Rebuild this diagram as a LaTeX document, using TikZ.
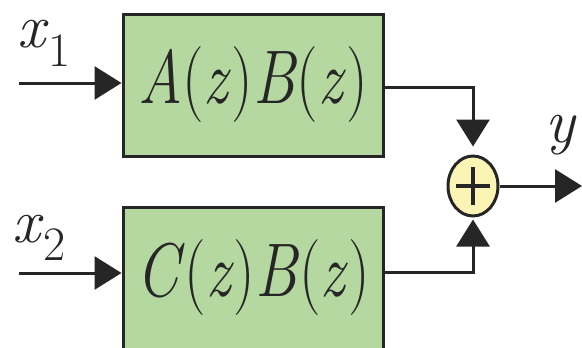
\documentclass[tikz,border=0pt]{standalone}
\usepackage{fontspec}
\usetikzlibrary{arrows.meta,shapes.geometric}
\definecolor{boxgreen}{HTML}{B5D8A0}
\definecolor{sumyellow}{HTML}{FBF5B5}
\definecolor{inkdark}{HTML}{262626}
\tikzset{
  blockbox/.style={draw=inkdark, line width=3pt, fill=boxgreen, minimum width=260pt, minimum height=142pt, inner sep=0pt,
    text=inkdark, font=\fontsize{76}{76}\selectfont},
  sumnode/.style={ellipse, draw=inkdark, line width=3pt, fill=sumyellow, minimum width=50pt, minimum height=60pt, inner sep=0pt},
  flow/.style={draw=inkdark, line width=3pt, -{Triangle[length=27pt,width=33pt]}},
  sig/.style={inner sep=0pt, anchor=base west, text=inkdark, font=\fontsize{62}{62}\selectfont},
}
\newcommand{\blocktext}[1]{\scalebox{0.8}[1]{#1}}
\newcommand{\subnum}[2]{\textit{x}\raisebox{#1}{\fontsize{48}{48}\selectfont #2}}
\begin{document}
\begin{tikzpicture}[x=1pt,y=1pt]
\useasboundingbox (0,0) rectangle (582,-348);
\clip (0,0) rectangle (582,-348);
\node[blockbox] (top) at (253,-85) {\blocktext{\textit{A}(\textit{z})\textit{B}(\textit{z})}};
\node[blockbox] (bot) at (253,-278) {\blocktext{\textit{C}(\textit{z})\textit{B}(\textit{z})}};
\node[sumnode] (sum) at (473,-186) {};
\draw[inkdark, line width=4pt] ([xshift=-17pt]sum.center) -- ([xshift=17pt]sum.center)
  ([yshift=-19pt]sum.center) -- ([yshift=19pt]sum.center);
\coordinate (in1) at (19,-83);
\coordinate (in2) at (19,-273);
\coordinate (out) at (582,-186);
\draw[flow] (in1) -- (top.west |- in1);
\draw[flow] (in2) -- (bot.west |- in2);
\draw[flow, shorten >=8pt] ([yshift=-2pt]top.east) -| (sum.north);
\draw[flow, shorten >=2pt] ([yshift=6pt]bot.east) -| (sum.south);
\draw[flow] (sum.east) -- (out);
\node[sig] (lx1) at (17,-47) {\subnum{-20pt}{1}};
\node[sig] (lx2) at (12,-242) {\subnum{-18pt}{2}};
\node[sig] (ly) at (545,-142) {\textit{y}};
\end{tikzpicture}
\end{document}
